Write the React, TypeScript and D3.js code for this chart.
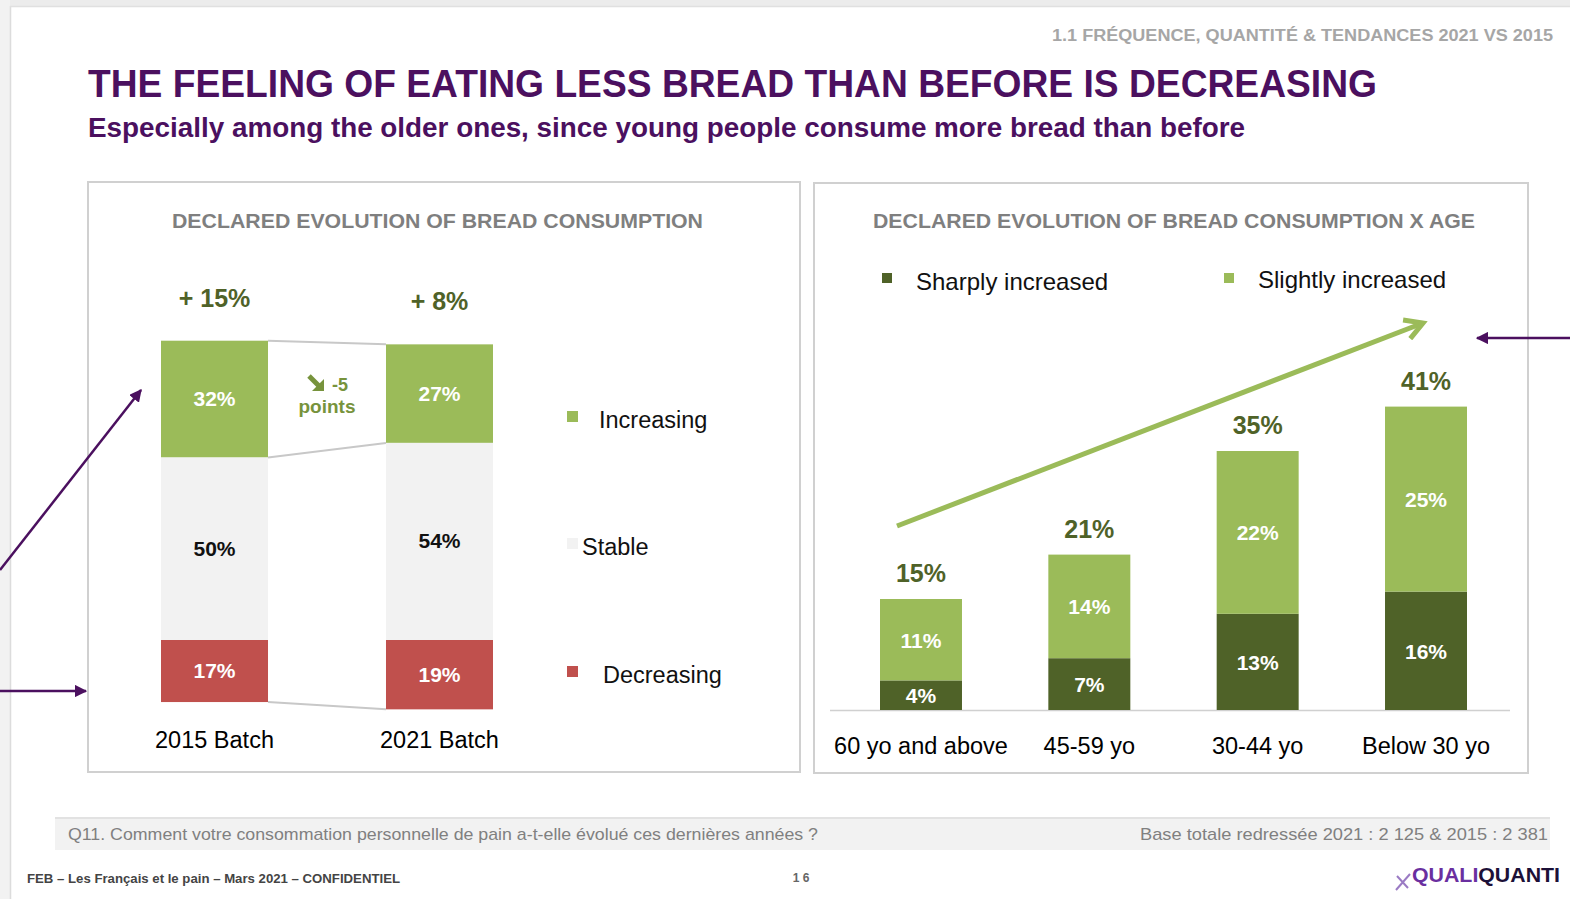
import React from "react";
import * as d3 from "d3";

// ---------- DATA ----------
const batches = ["2015 Batch", "2021 Batch"];
const increasing = [32, 27];
const stable = [50, 54];
const decreasing = [17, 19];
const legendLeft = ["Increasing", "Stable", "Decreasing"];

const ageGroups = ["60 yo and above", "45-59 yo", "30-44 yo", "Below 30 yo"];
const sharply = [4, 7, 13, 16];
const slightly = [11, 14, 22, 25];
const totals = [15, 21, 35, 41];
const legendRight = ["Sharply increased", "Slightly increased"];

const C = {
  purple: "#4b105f",
  lightGreen: "#9bbb59",
  darkGreen: "#4f6228",
  red: "#c0504d",
  stable: "#f2f2f2",
  gray: "#7f7f7f",
  labelGreen: "#4f6228",
  pointsGreen: "#77933c",
};

const F = "'Liberation Sans', Arial, sans-serif";

export default function App() {
  // Left chart scales
  const xL = d3.scaleBand<string>().domain(batches).range([161, 493]).paddingInner(0.5244).paddingOuter(0);
  const yL = d3.scaleLinear().domain([0, 100]).range([640, 275]);
  const bwL = xL.bandwidth();

  const leftBars = batches.map((b, i) => {
    const x = xL(b) as number;
    const decTop = yL(0);
    const decBot = yL(-decreasing[i]);
    const stTop = yL(stable[i]);
    const incTop = yL(stable[i] + increasing[i]);
    return { b, i, x, decTop, decBot, stTop, incTop };
  });

  // Right chart scales
  const xR = d3.scaleBand<string>().domain(ageGroups).range([880, 1467]).paddingInner(0.513).paddingOuter(0);
  const yR = d3.scaleLinear().domain([0, 50]).range([710, 340]);
  const bwR = xR.bandwidth();

  const [a, b2] = leftBars;
  const connectors = [
    [a.x + bwL, a.incTop, b2.x, b2.incTop],
    [a.x + bwL, a.stTop, b2.x, b2.stTop],
    [a.x + bwL, a.decBot, b2.x, b2.decBot],
  ];
  const diffPoints = increasing[1] - increasing[0];

  return (
    <svg
      width={1570}
      height={899}
      style={{ position: "absolute", left: 0, top: 0, background: "#fff" }}
      fontFamily={F}
    >
      <defs>
        <marker id="pArrow" viewBox="0 0 10 10" refX="9" refY="5" markerWidth="5" markerHeight="5" orient="auto">
          <path d="M0,0 L10,5 L0,10 z" fill={C.purple} />
        </marker>
        <marker id="gArrow" viewBox="0 0 10 10" refX="8" refY="5" markerWidth="5" markerHeight="5" orient="auto">
          <path d="M1,1 L8,5 L1,9" fill="none" stroke={C.lightGreen} strokeWidth="2" />
        </marker>
      </defs>

      {/* slide frame */}
      <rect x={0} y={0} width={1570} height={6} fill="#ececec" />
      <rect x={0} y={0} width={10} height={899} fill="#f2f2f2" />
      <line x1={10.5} y1={6} x2={10.5} y2={899} stroke="#dcdcdc" strokeWidth={1.5} />
      <line x1={10} y1={6.5} x2={1570} y2={6.5} stroke="#e0e0e0" strokeWidth={1.5} />

      {/* header */}
      <text x={1553} y={41} textAnchor="end" fontSize={16} fontWeight="bold" fill="#a6a6a6" textLength={501} lengthAdjust="spacingAndGlyphs">
        1.1 FRÉQUENCE, QUANTITÉ &amp; TENDANCES 2021 VS 2015
      </text>
      <text x={88} y={97} fontSize={38} fontWeight="bold" fill={C.purple} textLength={1289} lengthAdjust="spacingAndGlyphs">
        THE FEELING OF EATING LESS BREAD THAN BEFORE IS DECREASING
      </text>
      <text x={88} y={137} fontSize={27} fontWeight="bold" fill={C.purple} textLength={1157} lengthAdjust="spacingAndGlyphs">
        Especially among the older ones, since young people consume more bread than before
      </text>

      {/* chart frames */}
      <rect x={88} y={182} width={712} height={590} fill="none" stroke="#d0d0d0" strokeWidth={2} />
      <rect x={814} y={183} width={714} height={590} fill="none" stroke="#d0d0d0" strokeWidth={2} />

      {/* ---------- LEFT CHART ---------- */}
      <text x={172} y={228} fontSize={21} fontWeight="bold" fill={C.gray} textLength={531} lengthAdjust="spacingAndGlyphs">
        DECLARED EVOLUTION OF BREAD CONSUMPTION
      </text>

      {connectors.map((c, i) => (
        <line key={i} x1={c[0]} y1={c[1]} x2={c[2]} y2={c[3]} stroke="#c8c8c8" strokeWidth={2} />
      ))}

      {leftBars.map((d) => (
        <g key={d.b}>
          <rect x={d.x} y={d.incTop} width={bwL} height={d.stTop - d.incTop} fill={C.lightGreen} />
          <rect x={d.x} y={d.stTop} width={bwL} height={d.decTop - d.stTop} fill={C.stable} />
          <rect x={d.x} y={d.decTop} width={bwL} height={d.decBot - d.decTop} fill={C.red} />
          <text x={d.x + bwL / 2} y={(d.incTop + d.stTop) / 2 + 7} textAnchor="middle" fontSize={21} fontWeight="bold" fill="#fff">
            {increasing[d.i]}%
          </text>
          <text x={d.x + bwL / 2} y={(d.stTop + d.decTop) / 2 + 7} textAnchor="middle" fontSize={21} fontWeight="bold" fill="#111">
            {stable[d.i]}%
          </text>
          <text x={d.x + bwL / 2} y={(d.decTop + d.decBot) / 2 + 7} textAnchor="middle" fontSize={21} fontWeight="bold" fill="#fff">
            {decreasing[d.i]}%
          </text>
          <text x={d.x + bwL / 2} y={d.incTop - 34} textAnchor="middle" fontSize={25} fontWeight="bold" fill={C.labelGreen}>
            + {increasing[d.i] - decreasing[d.i]}%
          </text>
          <text x={d.x + bwL / 2} y={748} textAnchor="middle" fontSize={23.5} fill="#000">
            {d.b}
          </text>
        </g>
      ))}

      {/* -5 points annotation */}
      <g>
        <path d="M309,376 L319,386" stroke={C.pointsGreen} strokeWidth={5} />
        <path d="M324,391 L324,379 L312,391 z" fill={C.pointsGreen} />
        <text x={340} y={391} textAnchor="middle" fontSize={18} fontWeight="bold" fill={C.pointsGreen}>
          {diffPoints}
        </text>
        <text x={327} y={413} textAnchor="middle" fontSize={19} fontWeight="bold" fill={C.pointsGreen}>
          {"points"}
        </text>
      </g>

      {/* left legend */}
      {legendLeft.map((l, i) => {
        const ys = [417, 544, 672];
        const xs = [599, 582, 603];
        const cols = [C.lightGreen, C.stable, C.red];
        return (
          <g key={l}>
            <rect x={567} y={ys[i] - 6} width={11} height={11} fill={cols[i]} />
            <text x={xs[i]} y={ys[i] + 11} fontSize={23.5} fill="#111">
              {l}
            </text>
          </g>
        );
      })}

      {/* ---------- RIGHT CHART ---------- */}
      <text x={873} y={228} fontSize={21} fontWeight="bold" fill={C.gray} textLength={602} lengthAdjust="spacingAndGlyphs">
        DECLARED EVOLUTION OF BREAD CONSUMPTION X AGE
      </text>

      <rect x={882} y={273} width={10} height={10} fill={C.darkGreen} />
      <text x={916} y={290} fontSize={24} fill="#111">
        {legendRight[0]}
      </text>
      <rect x={1224} y={273} width={10} height={10} fill={C.lightGreen} />
      <text x={1258} y={288} fontSize={24} fill="#111">
        {legendRight[1]}
      </text>

      <line x1={830} x2={1510} y1={yR(0) + 0.5} y2={yR(0) + 0.5} stroke="#d0d0d0" strokeWidth={1.5} />

      {ageGroups.map((g, i) => {
        const x = xR(g) as number;
        const cx = x + bwR / 2;
        const y0 = yR(0);
        const y1 = yR(sharply[i]);
        const y2 = yR(sharply[i] + slightly[i]);
        return (
          <g key={g}>
            <rect x={x} y={y1} width={bwR} height={y0 - y1} fill={C.darkGreen} />
            <rect x={x} y={y2} width={bwR} height={y1 - y2} fill={C.lightGreen} />
            <text x={cx} y={(y0 + y1) / 2 + 8} textAnchor="middle" fontSize={21} fontWeight="bold" fill="#fff">
              {sharply[i]}%
            </text>
            <text x={cx} y={(y1 + y2) / 2 + 8} textAnchor="middle" fontSize={21} fontWeight="bold" fill="#fff">
              {slightly[i]}%
            </text>
            <text x={cx} y={yR(totals[i]) - 17} textAnchor="middle" fontSize={25} fontWeight="bold" fill={C.labelGreen}>
              {totals[i]}%
            </text>
            <text x={cx} y={754} textAnchor="middle" fontSize={23.5} fill="#000">
              {g}
            </text>
          </g>
        );
      })}

      {/* trend arrow */}
      <line x1={897} y1={526} x2={1423} y2={323} stroke={C.lightGreen} strokeWidth={5} markerEnd="url(#gArrow)" />

      {/* purple annotation arrows */}
      <line x1={0} y1={570} x2={141} y2={390} stroke={C.purple} strokeWidth={2.5} markerEnd="url(#pArrow)" />
      <line x1={0} y1={691} x2={86} y2={691} stroke={C.purple} strokeWidth={2.5} markerEnd="url(#pArrow)" />
      <line x1={1570} y1={338} x2={1477} y2={338} stroke={C.purple} strokeWidth={2.5} markerEnd="url(#pArrow)" />

      {/* footer band */}
      <rect x={55} y={818} width={1495} height={32} fill="#f2f2f2" />
      <line x1={55} x2={1550} y1={818} y2={818} stroke="#e2e2e2" strokeWidth={2} />
      <text x={68} y={840} fontSize={17} fill="#808080" textLength={750} lengthAdjust="spacingAndGlyphs">
        Q11. Comment votre consommation personnelle de pain a-t-elle évolué ces dernières années ?
      </text>
      <text x={1548} y={840} textAnchor="end" fontSize={17} fill="#808080" textLength={408} lengthAdjust="spacingAndGlyphs">
        Base totale redressée 2021 : 2 125 &amp; 2015 : 2 381
      </text>

      <text x={27} y={883} fontSize={13} fontWeight="bold" fill="#444" textLength={373} lengthAdjust="spacingAndGlyphs">
        FEB – Les Français et le pain – Mars 2021 – CONFIDENTIEL
      </text>
      <text x={801} y={882} textAnchor="middle" fontSize={12} fontWeight="bold" fill="#666">
        1 6
      </text>

      {/* logo */}
      <path d="M1396,890 L1410,874 M1397,876 L1408,888" stroke="#9b7bc4" strokeWidth={2} />
      <text x={1412} y={882} fontSize={20} fontWeight="bold" textLength={148} lengthAdjust="spacingAndGlyphs">
        <tspan fill="#6a2fa0">QUALI</tspan>
        <tspan fill="#1c1038">QUANTI</tspan>
      </text>
    </svg>
  );
}
